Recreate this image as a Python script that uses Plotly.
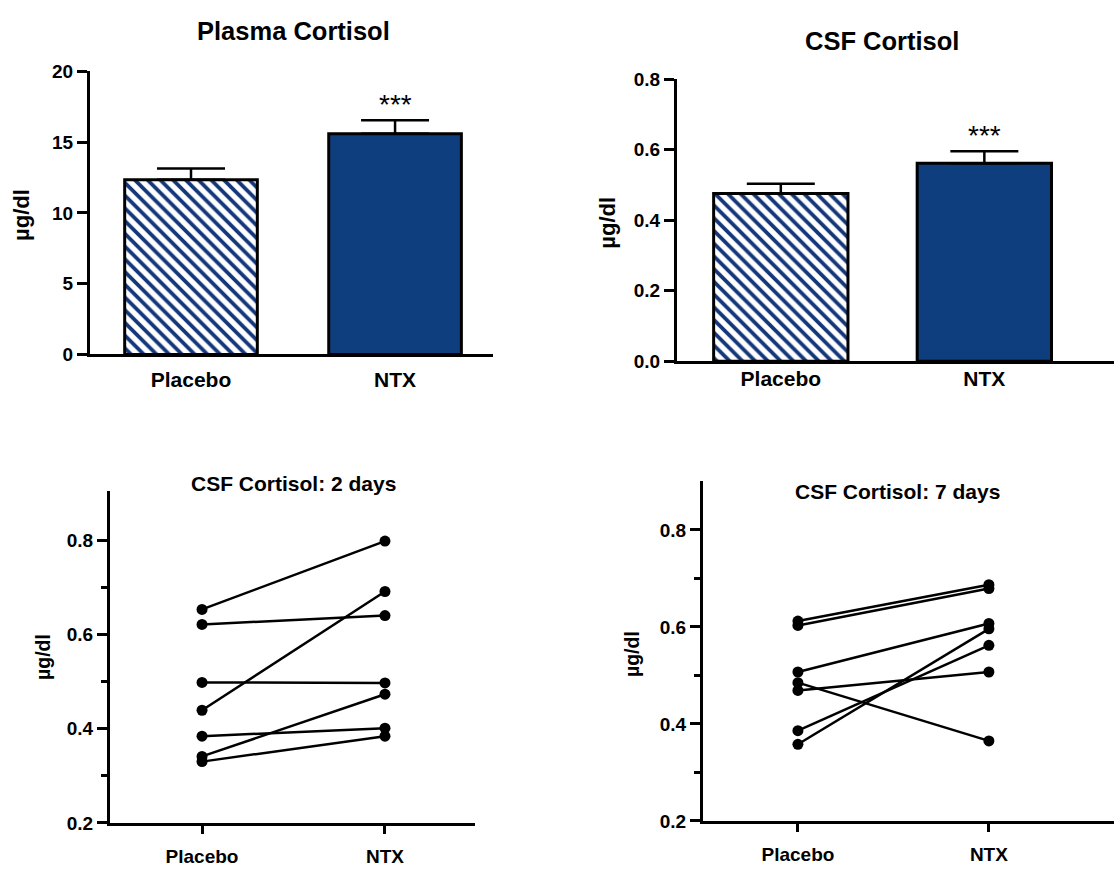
import plotly.graph_objects as go

# ---------------- data ----------------
groups = ["Placebo", "NTX"]

plasma_mean = [12.35, 15.6]
plasma_sem = [0.8, 0.95]

csf_mean = [0.476, 0.562]
csf_sem = [0.028, 0.034]

placebo_2d = [0.653, 0.621, 0.498, 0.439, 0.384, 0.341, 0.330]
ntx_2d = [0.798, 0.640, 0.497, 0.691, 0.401, 0.473, 0.384]

placebo_7d = [0.612, 0.603, 0.507, 0.485, 0.469, 0.386, 0.358]
ntx_7d = [0.687, 0.679, 0.607, 0.365, 0.507, 0.562, 0.596]

titles = ["Plasma Cortisol", "CSF Cortisol", "CSF Cortisol: 2 days", "CSF Cortisol: 7 days"]
unit = "µg/dl"

# ---------------- style ----------------
W, H = 1114, 870
FONT = "Liberation Sans, Arial, Helvetica, sans-serif"
NAVY = "#0f3e7f"
HATCH = "#14377a"


def xd(a, b):
    return [a / W, b / W]


def yd(top, bottom):
    return [1 - bottom / H, 1 - top / H]


fig = go.Figure()

hatch = dict(shape="\\", fgcolor=HATCH, bgcolor="white", fgopacity=1,
             size=9, solidity=0.42, fillmode="replace")

# Top-left: plasma cortisol bars (placebo hatched, NTX solid)
fig.add_trace(go.Bar(
    x=[0], y=[plasma_mean[0]], width=0.65,
    marker=dict(color=HATCH, line=dict(color="black", width=3), pattern=hatch),
    error_y=dict(type="data", array=[plasma_sem[0]], arrayminus=[0], symmetric=False,
                 color="black", thickness=2.5, width=34),
    xaxis="x", yaxis="y", showlegend=False,
))
fig.add_trace(go.Bar(
    x=[1], y=[plasma_mean[1]], width=0.65,
    marker=dict(color=NAVY, line=dict(color="black", width=3)),
    error_y=dict(type="data", array=[plasma_sem[1]], arrayminus=[0], symmetric=False,
                 color="black", thickness=2.5, width=34),
    xaxis="x", yaxis="y", showlegend=False,
))

# Top-right: CSF cortisol bars
fig.add_trace(go.Bar(
    x=[0], y=[csf_mean[0]], width=0.66,
    marker=dict(color=HATCH, line=dict(color="black", width=3), pattern=hatch),
    error_y=dict(type="data", array=[csf_sem[0]], arrayminus=[0], symmetric=False,
                 color="black", thickness=2.5, width=34),
    xaxis="x2", yaxis="y2", showlegend=False,
))
fig.add_trace(go.Bar(
    x=[1], y=[csf_mean[1]], width=0.66,
    marker=dict(color=NAVY, line=dict(color="black", width=3)),
    error_y=dict(type="data", array=[csf_sem[1]], arrayminus=[0], symmetric=False,
                 color="black", thickness=2.5, width=34),
    xaxis="x2", yaxis="y2", showlegend=False,
))

# Bottom-left: paired lines 2 days
for a, b in zip(placebo_2d, ntx_2d):
    fig.add_trace(go.Scatter(
        x=[0, 1], y=[a, b], mode="lines+markers",
        line=dict(color="black", width=2.5), marker=dict(color="black", size=11),
        xaxis="x3", yaxis="y3", showlegend=False, cliponaxis=False,
    ))

# Bottom-right: paired lines 7 days
for a, b in zip(placebo_7d, ntx_7d):
    fig.add_trace(go.Scatter(
        x=[0, 1], y=[a, b], mode="lines+markers",
        line=dict(color="black", width=2.5), marker=dict(color="black", size=11),
        xaxis="x4", yaxis="y4", showlegend=False, cliponaxis=False,
    ))

axis_common = dict(showline=True, linecolor="black", linewidth=3, showgrid=False,
                   zeroline=False, color="black")
ytick_common = dict(ticks="outside", ticklen=10, tickwidth=3, tickcolor="black",
                    tickfont=dict(family=FONT, size=19, color="black", weight="bold"))

fig.update_layout(
    width=W, height=H, margin=dict(l=0, r=0, t=0, b=0),
    paper_bgcolor="white", plot_bgcolor="white", bargap=0.3,
    xaxis=dict(domain=xd(90, 493), range=[-0.495, 1.48], anchor="y",
               tickmode="array", tickvals=[0, 1], ticktext=groups, ticks="",
               ticklabelstandoff=4,
               tickfont=dict(family=FONT, size=21, color="black", weight="bold"),
               **axis_common),
    yaxis=dict(domain=yd(63, 353), range=[0, 20], anchor="x",
               tickmode="array", tickvals=[0, 5, 10, 15, 20],
               **ytick_common, **axis_common),
    xaxis2=dict(domain=xd(677, 1114), range=[-0.51, 1.637], anchor="y2",
                tickmode="array", tickvals=[0, 1], ticktext=groups, ticks="",
                ticklabelstandoff=-4,
                tickfont=dict(family=FONT, size=21, color="black", weight="bold"),
                **axis_common),
    yaxis2=dict(domain=yd(71, 360), range=[0, 0.8], anchor="x2",
                tickmode="array", tickvals=[0, 0.2, 0.4, 0.6, 0.8], tickformat=".1f",
                **ytick_common, **axis_common),
    xaxis3=dict(domain=xd(110, 475), range=[-0.503, 1.492], anchor="y3",
                tickmode="array", tickvals=[0, 1], ticktext=groups,
                ticks="outside", ticklen=8, tickwidth=3, tickcolor="black",
                ticklabelstandoff=6,
                tickfont=dict(family=FONT, size=19, color="black", weight="bold"),
                **axis_common),
    yaxis3=dict(domain=yd(493, 833), range=[0.2, 0.904], anchor="x3",
                tickmode="array", tickvals=[0.2, 0.4, 0.6, 0.8], tickformat=".1f",
                minor=dict(tickmode="array", tickvals=[0.3, 0.5, 0.7], ticks="outside",
                           ticklen=6, tickwidth=3, tickcolor="black", showgrid=False),
                **ytick_common, **axis_common),
    xaxis4=dict(domain=xd(703, 1114), range=[-0.497, 1.655], anchor="y4",
                tickmode="array", tickvals=[0, 1], ticktext=groups,
                ticks="outside", ticklen=8, tickwidth=3, tickcolor="black",
                ticklabelstandoff=6,
                tickfont=dict(family=FONT, size=19, color="black", weight="bold"),
                **axis_common),
    yaxis4=dict(domain=yd(483, 831), range=[0.2, 0.9], anchor="x4",
                tickmode="array", tickvals=[0.2, 0.4, 0.6, 0.8], tickformat=".1f",
                minor=dict(tickmode="array", tickvals=[0.3, 0.5, 0.7], ticks="outside",
                           ticklen=6, tickwidth=3, tickcolor="black", showgrid=False),
                **ytick_common, **axis_common),
)

annotations = []
# titles (paper pixel positions)
title_pos = [(293, 22, 25.5), (882, 32, 25.5), (293, 485, 21), (897, 493, 21)]
for t, (px, py, fs) in zip(titles, title_pos):
    annotations.append(dict(x=px / W, y=1 - py / H, xref="paper", yref="paper",
                            text=t, showarrow=False, xanchor="center", yanchor="middle",
                            font=dict(family=FONT, size=fs, color="black", weight="bold")))
# y-axis titles
ylab_pos = [(22, 210, 22), (608, 218, 22), (43, 663, 19.5), (632, 660, 19.5)]
for px, py, fs in ylab_pos:
    annotations.append(dict(x=px / W, y=1 - py / H, xref="paper", yref="paper",
                            text=unit, showarrow=False, textangle=-90,
                            xanchor="center", yanchor="middle",
                            font=dict(family=FONT, size=fs, color="black", weight="bold")))
# significance stars
annotations.append(dict(x=1, y=plasma_mean[1] + plasma_sem[1], xref="x", yref="y",
                        text="***", showarrow=False, yanchor="bottom", yshift=-2,
                        font=dict(family=FONT, size=28, color="black")))
annotations.append(dict(x=1, y=csf_mean[1] + csf_sem[1], xref="x2", yref="y2",
                        text="***", showarrow=False, yanchor="bottom", yshift=-2,
                        font=dict(family=FONT, size=28, color="black")))
fig.update_layout(annotations=annotations)

fig.write_html("out.html")
